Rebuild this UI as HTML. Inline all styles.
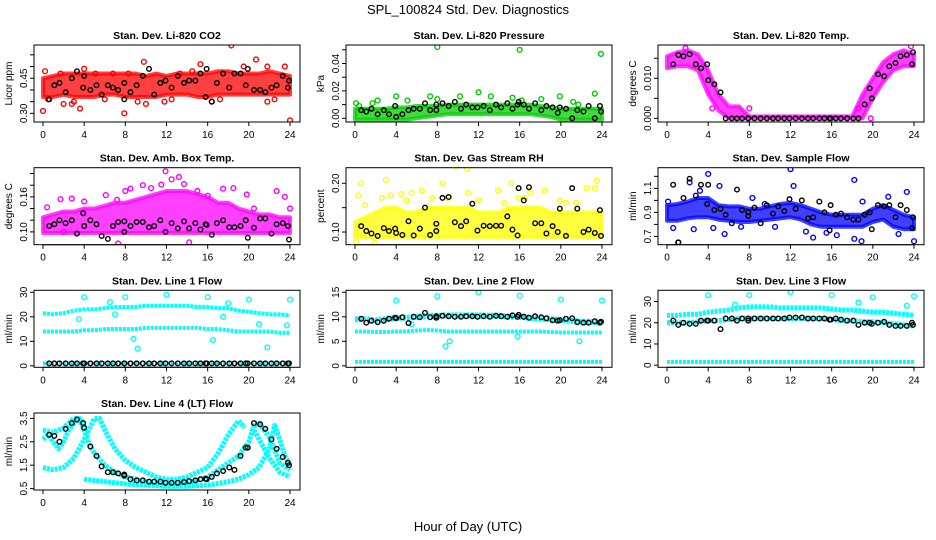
<!DOCTYPE html>
<html><head><meta charset="utf-8"><style>
html,body{margin:0;padding:0;background:#fff;}
svg{display:block;font-family:"Liberation Sans",sans-serif;}
</style></head><body>
<svg id="chart" width="936" height="540" viewBox="0 0 936 540" xmlns="http://www.w3.org/2000/svg">
<text x="468" y="14" text-anchor="middle" font-size="13">SPL_100824  Std. Dev. Diagnostics</text>
<text x="468" y="531" text-anchor="middle" font-size="13">Hour of Day (UTC)</text>
</svg>
<script>
// shared black-point hours
const blackHours=[0.6,1.1,1.6,2.2,2.8,3.3,3.9,4.0,4.6,5.2,5.7,6.3,6.8,7.3,7.9,7.9,8.5,9.1,9.7,10.3,10.8,11.4,11.9,12.5,13.1,13.7,14.2,14.8,15.3,15.8,15.9,16.4,16.9,17.5,18.1,18.6,19.2,19.7,19.9,20.5,21.1,21.6,22.2,22.7,23.3,23.8,23.9];
const bandHours=[0,1,2,3,4,5,6,7,8,9,10,11,12,13,14,15,16,17,18,19,20,21,22,23,24];
const xTicks=[0,4,8,12,16,20,24];

// P1 CO2
const co2Low=[0.37,0.37,0.38,0.37,0.37,0.37,0.38,0.38,0.37,0.37,0.37,0.37,0.38,0.38,0.38,0.37,0.37,0.38,0.38,0.38,0.38,0.38,0.38,0.38,0.38];
const co2High=[0.45,0.46,0.47,0.47,0.47,0.47,0.47,0.47,0.47,0.47,0.46,0.47,0.46,0.47,0.47,0.47,0.47,0.48,0.48,0.47,0.47,0.47,0.48,0.47,0.46];
const co2OutHr=[0,0.2,2,3.6,4,7.9,9.8,10,15.3,18.3,20.7,21.8,21.8,24,23.5,2.8,1.7,5.1,6.8,8.3,9.2,11.8,13.3,16.4,17.2,19.5,0.5,3.0,6.0,12.5,14.5,22.5];
const co2OutVal=[0.31,0.48,0.34,0.32,0.49,0.30,0.52,0.34,0.51,0.59,0.53,0.50,0.35,0.27,0.50,0.34,0.47,0.47,0.47,0.47,0.35,0.35,0.47,0.35,0.36,0.50,0.36,0.35,0.36,0.36,0.48,0.36];
const co2Black=[0.36,0.42,0.43,0.39,0.45,0.48,0.41,0.46,0.40,0.42,0.38,0.42,0.41,0.40,0.36,0.43,0.39,0.42,0.46,0.49,0.38,0.43,0.44,0.41,0.46,0.43,0.44,0.44,0.47,0.37,0.49,0.35,0.43,0.47,0.41,0.47,0.47,0.42,0.49,0.40,0.40,0.39,0.41,0.42,0.46,0.41,0.44];

// P2 Pressure
const presLow=[-0.001,-0.001,-0.001,-0.001,-0.001,-0.001,0,0.001,0.002,0.003,0.003,0.003,0.003,0.003,0.003,0.003,0.003,0.003,0.002,0.001,-0.001,-0.001,-0.001,-0.001,-0.001];
const presHigh=[0.007,0.007,0.007,0.007,0.008,0.008,0.009,0.009,0.009,0.010,0.010,0.010,0.010,0.010,0.010,0.010,0.010,0.010,0.009,0.008,0.007,0.007,0.007,0.007,0.007];
const presOutHr=[0.1,0.4,1.7,2.2,4,5.1,7.3,8,8,10.2,12,13.2,15.3,16,16.2,18.1,19.9,21.2,21.7,23.3,23.9];
const presOutVal=[0.011,0.009,0.011,0.013,0.016,0.013,0.016,0.052,0.014,0.016,0.019,0.016,0.015,0.050,0.013,0.014,0.016,0.012,0.010,0.018,0.047];
const presBlack=[0.006,0.005,0.007,0.003,0.006,0.003,0.009,0.001,0.003,0.006,0.007,0.007,0.011,0.006,0.006,0.010,0.011,0.009,0.012,0.007,0.010,0.008,0.008,0.009,0.006,0.010,0.008,0.011,0.007,0.010,0.012,0.010,0.007,0.011,0.006,0.009,0.008,0.004,0.008,0.007,0.000,0.006,0.005,0.009,0.000,0.009,0.005];

// P3 Li-820 Temp
const ltLow=[0.0125,0.013,0.013,0.012,0.006,0.002,0,0,0,0,0,0,0,0,0,0,0,0,0,0,0.005,0.009,0.012,0.013,0.013];
const ltHigh=[0.0155,0.0165,0.017,0.016,0.012,0.006,0.003,0.003,0.0005,0.0005,0.0005,0.0005,0.0005,0.0005,0.0005,0.0005,0.0005,0.0005,0.0005,0.006,0.010,0.014,0.016,0.017,0.016];
const ltOutHr=[8,18.6,19.8,4.4,1.8,23.7];
const ltOutVal=[0.0025,0.0025,0.0,0.0025,0.0175,0.018];
const ltBlack=[0.0135,0.0158,0.0155,0.016,0.0135,0.0125,0.0135,0.0095,0.0085,0.0065,0,0,0,0,0,0,0,0,0,0,0,0,0,0,0,0,0,0,0,0,0,0,0,0,0,0,0.0035,0.0075,0.005,0.011,0.0105,0.013,0.0138,0.0155,0.0158,0.0135,0.0165];

// P4 Amb Box Temp
const btLow=[0.098,0.098,0.098,0.098,0.098,0.098,0.098,0.098,0.098,0.098,0.098,0.098,0.098,0.098,0.098,0.098,0.098,0.098,0.098,0.098,0.098,0.098,0.098,0.098,0.098];
const btHigh=[0.125,0.13,0.135,0.135,0.14,0.14,0.145,0.15,0.15,0.155,0.16,0.165,0.17,0.17,0.17,0.165,0.16,0.15,0.15,0.14,0.135,0.13,0.13,0.125,0.125];
const btOutHr=[0.4,1.7,2.8,4,6.1,7.2,8.0,8.5,9.7,11.5,11.9,12.5,13.2,13.7,16,17.5,18.5,19.8,22.7,23.5,7.3,14.2,24,2.0,10.5,15,20.5];
const btOutVal=[0.142,0.156,0.157,0.152,0.163,0.155,0.17,0.174,0.18,0.181,0.204,0.19,0.194,0.182,0.162,0.174,0.175,0.164,0.17,0.16,0.08,0.082,0.14,0.10,0.175,0.17,0.14];
const btBlack=[0.11,0.113,0.12,0.115,0.12,0.097,0.132,0.11,0.12,0.113,0.093,0.088,0.11,0.117,0.118,0.1,0.11,0.117,0.117,0.108,0.11,0.12,0.1,0.115,0.106,0.118,0.106,0.115,0.104,0.113,0.112,0.095,0.115,0.12,0.108,0.108,0.11,0.12,0.09,0.107,0.123,0.123,0.097,0.113,0.115,0.11,0.087];

// P5 Gas Stream RH
const rhLow=[0.09,0.09,0.09,0.09,0.09,0.09,0.09,0.09,0.09,0.09,0.09,0.09,0.09,0.09,0.09,0.09,0.09,0.09,0.09,0.09,0.09,0.09,0.09,0.09,0.09];
const rhHigh=[0.12,0.13,0.14,0.15,0.15,0.14,0.14,0.15,0.15,0.15,0.15,0.15,0.14,0.14,0.14,0.15,0.15,0.15,0.15,0.14,0.14,0.14,0.14,0.14,0.14];
const rhOutHr=[0.3,0.6,1,3,4.5,5.5,6.5,8.5,9.8,10.9,12,15.2,15.9,17,18.4,19.9,21.5,22.5,23.5,23.3,2.6,13.9,11,7.5,0.1,1.9,3.5,5,9,14.5,20.5,16.5];
const rhOutVal=[0.175,0.2,0.155,0.207,0.178,0.18,0.185,0.2,0.235,0.23,0.165,0.2,0.17,0.18,0.185,0.165,0.16,0.19,0.205,0.19,0.17,0.185,0.18,0.17,0.08,0.078,0.175,0.165,0.17,0.16,0.16,0.17];
const rhBlack=[0.112,0.102,0.097,0.092,0.108,0.102,0.107,0.098,0.094,0.122,0.093,0.107,0.15,0.094,0.102,0.117,0.17,0.172,0.12,0.112,0.122,0.158,0.103,0.113,0.112,0.113,0.113,0.132,0.105,0.093,0.19,0.165,0.192,0.118,0.118,0.097,0.112,0.1,0.148,0.092,0.19,0.148,0.1,0.105,0.098,0.145,0.092];

// P6 Sample Flow
const sfLow=[0.83,0.83,0.85,0.86,0.86,0.84,0.83,0.82,0.82,0.83,0.84,0.85,0.86,0.84,0.80,0.78,0.78,0.78,0.78,0.78,0.82,0.84,0.78,0.76,0.76];
const sfHigh=[0.96,0.97,0.99,1.02,1.02,0.96,0.95,0.95,0.93,0.93,0.95,0.97,0.98,0.96,0.93,0.90,0.88,0.88,0.88,0.88,0.93,0.96,0.92,0.88,0.86];
const sfOutHr=[1.1,2.2,4,5.1,5.6,12,12.3,14.2,18.2,18.2,18.9,23.3,24,0.1,0.6,4.5,7.2,9.5,15.5,2.6,3.2,8.3,10.5,13.5,16.5,19,21.5,22.5];
const sfOutVal=[0.65,1.15,1.22,1.12,0.72,1.26,1.12,0.69,1.17,0.68,0.66,1.07,0.66,0.99,0.77,0.77,0.78,0.97,0.73,0.76,1.08,1.02,0.78,0.74,0.71,0.99,1.03,0.72];
const sfBlack=[1.13,0.65,1.02,1.18,1.04,1.13,0.97,1.13,0.92,0.93,0.88,0.81,1.09,0.92,0.9,0.87,0.94,0.81,0.96,0.89,0.95,0.91,1.01,0.93,1.0,0.85,0.86,0.99,0.9,0.75,0.96,0.88,0.89,0.86,0.84,0.84,0.88,0.9,0.76,0.96,0.95,0.96,0.86,0.96,0.92,0.77,0.86];

// P7 Line 1 Flow
const l1BandA=[21.5,21,21.5,22.5,23,23,23.5,24,24,24,24.5,24.5,24.5,24.5,24.5,24,24,23.5,23.5,22.5,22,21.5,21,21,20.5];
const l1BandB=[14,14,14,14,14.5,14.5,15,15,15,15,15.5,15.5,15.5,15.5,15.5,15.5,15,15,14.5,14,14,14,14,13.5,13.5];
const l1BandC=[1,1,1,1,1,1,1,1,1,1,1,1,1,1,1,1,1,1,1,1,1,1,1,1,1];
const l1OutHr=[4,8,12,16,20,24,3.5,8.8,9.2,16.5,21,21.8,23.7,6.5,7,17.5,18];
const l1OutVal=[28,28,29,28,27,27,19,11,7,10.5,17,7.5,16.5,26,21,20,25.5];
const l1Black=[1,1,1,1,1,1,1,1,1,1,1,1,1,1,1,1,1,1,1,1,1,1,1,1,1,1,1,1,1,1,1,1,1,1,1,1,1,1,1,1,1,1,1,1,1,1,1];

// P8 Line 2 Flow
const l2BandA=[9.5,9.5,9.3,9.5,9.8,9.8,10,10.2,10.2,10.3,10.3,10.3,10.3,10.2,10.2,10,10,9.8,9.6,9.5,9.4,9.2,9,9,8.8];
const l2BandB=[7,7,6.9,6.9,7,7,7.2,7.3,7.2,7,7,7,7,7,7,7,7,7,7,6.9,6.8,6.8,6.8,6.8,6.8];
const l2BandC=[0.8,0.8,0.8,0.8,0.8,0.8,0.8,0.8,0.8,0.8,0.8,0.8,0.8,0.8,0.8,0.8,0.8,0.8,0.8,0.8,0.8,0.8,0.8,0.8,0.8];
const l2OutHr=[4,8,12,16,20,24,8.8,9.2,21.8,15.8,5.5];
const l2OutVal=[13.3,14.2,15,14.3,13.5,13.3,4,5,5,6,8.5];
const l2Black=[9.6,8.8,9.2,8.9,9.2,9.6,9.8,9.7,9.9,8.7,10,9.9,10.8,9.9,10.1,9.8,10.2,10.1,10,10,10.1,10.1,10,10.1,10,10.2,10.1,10,10.3,10,10.4,10,9.8,10.1,9.9,9.7,9.3,9.2,9.3,9.6,9.7,8.9,8.8,8.8,9.1,8.8,9.0];

// P9 Line 3 Flow
const l3BandA=[23.5,23.5,24,24,25,25.5,26,27,27.5,27.5,27.5,27,27,27,27,27,26.5,26,26,25.5,25,25,24.5,24,23.5];
const l3BandB=[20,20,20,20.5,21,21,21.5,22,22,22,22,22,22,22,22,22,21.5,21,21,20.5,20.5,20,19.5,19,18.5];
const l3BandC=[1.5,1.5,1.5,1.5,1.5,1.5,1.5,1.5,1.5,1.5,1.5,1.5,1.5,1.5,1.5,1.5,1.5,1.5,1.5,1.5,1.5,1.5,1.5,1.5,1.5];
const l3OutHr=[4,8,12,16,20,24,6.6,18.6,23.3];
const l3OutVal=[33,33,34.5,33,32,32.5,28.5,29.5,28];
const l3Black=[21,19,20,19.5,19.5,21,21,21,21,17,22,22,21,22,22,21,22,22,22,22,22,22,22.5,22.5,22.5,22,22,22,22,21.5,21.5,22,21.5,21,21,19,20,20,19.5,20,20.5,19,18.5,18.5,18.5,20,19];

// P10 Line 4 (LT) Flow
const l4C1Hr=[0,1,2,3,4,5,5.5,6,7,8,9,10,11,12,13,14,15,16,17,18,19,19.6];
const l4C1Val=[1.4,1.3,1.4,1.8,2.6,3.5,3.5,3.0,2.2,1.7,1.4,1.2,1.0,0.9,0.9,1.0,1.2,1.4,2.0,2.8,3.4,3.1];
const l4C2Hr=[0,1,2,3,3.5,4,4.5,5,6,7,8,9,10,11,12,13,14,15,16,17,18,19,20,20.5,21,22,23,24];
const l4C2Val=[3.0,2.9,3.1,3.5,3.5,3.0,2.4,2.0,1.5,1.2,1.0,0.9,0.8,0.75,0.7,0.7,0.75,0.85,1.0,1.3,1.6,1.9,2.5,3.2,3.3,2.7,1.6,1.3];
const l4C3Hr=[4,6,8,10,12,14,16,18,19,20,21,22,22.5,23,23.5,24];
const l4C3Val=[0.9,0.8,0.7,0.65,0.6,0.6,0.65,0.8,0.9,1.1,1.4,2.2,3.2,2.6,1.9,1.5];
const l4C4Hr=[0,0.5,1,1.5,2,2.5,3,3.5,4];
const l4C4Val=[2.6,2.8,2.5,2.2,2.5,3.0,3.3,3.5,3.3];
const l4C5Hr=[20.5,21,22,23,24];
const l4C5Val=[3.0,2.6,1.8,1.2,1.0];
const l4Black=[2.8,2.75,2.5,3.05,3.3,3.45,3.3,3.1,2.3,1.9,1.45,1.2,1.2,1.15,1.05,1.1,0.9,0.85,0.85,0.8,0.8,0.8,0.75,0.75,0.75,0.78,0.82,0.85,0.9,0.92,0.9,1.0,1.15,1.25,1.4,1.3,1.9,2.25,2.25,3.3,3.25,3.05,2.6,2.2,1.85,1.6,1.5];

const svg=document.getElementById('chart');
const NS='http://www.w3.org/2000/svg';
function mk(tag,attrs,parent){const e=document.createElementNS(NS,tag);for(const k in attrs)e.setAttribute(k,attrs[k]);(parent||svg).appendChild(e);return e;}

const colX=[34,346,658], rowY=[45,167.7,290.3,413], BW=266, BH=77;

const panels=[
 {name:'co2',title:'Stan. Dev. Li-820 CO2',ylab:'Licor ppm',c:0,r:0,y0:0.263,y1:0.592,ticks:[0.30,0.35,0.40,0.45,0.50,0.55],labels:{'0.3':'0.30','0.45':'0.45'},col:'#ff0000',low:co2Low,high:co2High,outHr:co2OutHr,outVal:co2OutVal,black:co2Black},
 {name:'pressure',title:'Stan. Dev. Li-820 Pressure',ylab:'kPa',c:1,r:0,y0:-0.0027,y1:0.0535,ticks:[0,0.01,0.02,0.03,0.04,0.05],labels:{'0':'0.00','0.02':'0.02','0.04':'0.04'},col:'#00cc00',low:presLow,high:presHigh,outHr:presOutHr,outVal:presOutVal,black:presBlack},
 {name:'li820-temp',title:'Stan. Dev. Li-820 Temp.',ylab:'degrees C',c:2,r:0,y0:-0.0009,y1:0.0183,ticks:[0,0.005,0.01,0.015],labels:{'0':'0.000','0.01':'0.010'},col:'#ff00ff',low:ltLow,high:ltHigh,outHr:ltOutHr,outVal:ltOutVal,black:ltBlack},
 {name:'box-temp',title:'Stan. Dev. Amb. Box Temp.',ylab:'degrees C',c:0,r:1,y0:0.078,y1:0.21,ticks:[0.10,0.12,0.14,0.16,0.18,0.20],labels:{'0.1':'0.10','0.16':'0.16'},col:'#ff00ff',low:btLow,high:btHigh,outHr:btOutHr,outVal:btOutVal,black:btBlack},
 {name:'gas-rh',title:'Stan. Dev. Gas Stream RH',ylab:'percent',c:1,r:1,y0:0.074,y1:0.232,ticks:[0.10,0.15,0.20],labels:{'0.1':'0.10','0.2':'0.20'},col:'#ffff00',low:rhLow,high:rhHigh,outHr:rhOutHr,outVal:rhOutVal,black:rhBlack},
 {name:'sample-flow',title:'Stan. Dev. Sample Flow',ylab:'ml/min',c:2,r:1,y0:0.631,y1:1.272,ticks:[0.7,0.8,0.9,1.0,1.1,1.2],labels:{'0.7':'0.7','0.9':'0.9','1.1':'1.1'},col:'#0000ff',low:sfLow,high:sfHigh,outHr:sfOutHr,outVal:sfOutVal,black:sfBlack},
 {name:'line1-flow',title:'Stan. Dev. Line 1 Flow',ylab:'ml/min',c:0,r:2,y0:-0.6,y1:30.8,ticks:[0,10,20,30],labels:{'0':'0','10':'10','20':'20','30':'30'},col:'#00ffff',bands:[[bandHours,l1BandA,4],[bandHours,l1BandB,4],[bandHours,l1BandC,4]],outHr:l1OutHr,outVal:l1OutVal,black:l1Black},
 {name:'line2-flow',title:'Stan. Dev. Line 2 Flow',ylab:'ml/min',c:1,r:2,y0:-0.3,y1:15.4,ticks:[0,5,10,15],labels:{'0':'0','5':'5','10':'10','15':'15'},col:'#00ffff',bands:[[bandHours,l2BandA,6],[bandHours,l2BandB,4],[bandHours,l2BandC,4]],outHr:l2OutHr,outVal:l2OutVal,black:l2Black},
 {name:'line3-flow',title:'Stan. Dev. Line 3 Flow',ylab:'ml/min',c:2,r:2,y0:-1,y1:35.3,ticks:[0,10,20,30],labels:{'0':'0','10':'10','20':'20','30':'30'},col:'#00ffff',bands:[[bandHours,l3BandA,5],[bandHours,l3BandB,5],[bandHours,l3BandC,4]],outHr:l3OutHr,outVal:l3OutVal,black:l3Black},
 {name:'line4-flow',title:'Stan. Dev. Line 4 (LT) Flow',ylab:'ml/min',c:0,r:3,y0:0.44,y1:3.73,ticks:[0.5,1.5,2.5,3.5],labels:{'0.5':'0.5','1.5':'1.5','2.5':'2.5','3.5':'3.5'},col:'#00ffff',bands:[[l4C1Hr,l4C1Val,5],[l4C2Hr,l4C2Val,5],[l4C3Hr,l4C3Val,5],[l4C4Hr,l4C4Val,5],[l4C5Hr,l4C5Val,5]],outHr:[],outVal:[],black:l4Black}
];

panels.forEach(p=>{
  const bx=colX[p.c], by=rowY[p.r];
  const xs=h=>bx+9+h*(247/24);
  const ys=v=>by+BH-(v-p.y0)/(p.y1-p.y0)*BH;
  const g=mk('g',{});
  
  
  const cp=mk('clipPath',{id:'clip-'+p.name},g);
  mk('rect',{x:bx,y:by,width:BW,height:BH},cp);
  const marks=mk('g',{'clip-path':'url(#clip-'+p.name+')'},g);
  
  
  if(p.low){
    let pts=bandHours.map((h,i)=>xs(h)+','+ys(p.high[i]));
    pts=pts.concat(bandHours.slice().reverse().map((h,j)=>{const i=bandHours.length-1-j;return xs(h)+','+ys(p.low[i]);}));
    const band=mk('polygon',{points:pts.join(' '),fill:p.col,stroke:p.col,'stroke-width':4,'stroke-linejoin':'round','fill-opacity':0.75,'stroke-opacity':0.75},marks);
    
    
  }
  if(p.bands){
    p.bands.forEach((b,k)=>{
      const pl=mk('polyline',{points:b[0].map((h,i)=>xs(h)+','+ys(b[1][i])).join(' '),fill:'none',stroke:p.col,'stroke-width':b[2],'stroke-dasharray':'3 1','stroke-linejoin':'round'},marks);
      
      
    });
  }
  p.outHr.forEach((h,i)=>{
    const c=mk('circle',{cx:xs(h),cy:ys(p.outVal[i]),r:2.4,fill:'none',stroke:p.col,'stroke-width':1.4},marks);
    
    
  });
  blackHours.forEach((h,i)=>{
    const c=mk('circle',{cx:xs(h),cy:ys(p.black[i]),r:2.3,fill:'none',stroke:'#000','stroke-width':1.4},marks);
    
    
  });
  const box=mk('rect',{x:bx,y:by,width:BW,height:BH,fill:'none',stroke:'#000','stroke-width':1},g);
  
  
  const t=mk('text',{x:bx+BW/2,y:by-6,'text-anchor':'middle','font-size':10.5,'font-weight':'bold'},g);
  t.textContent=p.title;
  
  
  mk('line',{x1:xs(0),x2:xs(24),y1:by+BH,y2:by+BH,stroke:'#000'},g);
  xTicks.forEach(h=>{
    mk('line',{x1:xs(h),x2:xs(h),y1:by+BH,y2:by+BH+4,stroke:'#000'},g);
    const tl=mk('text',{x:xs(h),y:by+BH+16,'text-anchor':'middle','font-size':10},g);
    tl.textContent=h;
    
    
  });
  const tmin=p.ticks[0], tmax=p.ticks[p.ticks.length-1];
  mk('line',{x1:bx,x2:bx,y1:ys(tmin),y2:ys(tmax),stroke:'#000'},g);
  p.ticks.forEach(v=>{
    mk('line',{x1:bx-4,x2:bx,y1:ys(v),y2:ys(v),stroke:'#000'},g);
    const key=String(+v.toFixed(4));
    if(p.labels[key]!==undefined){
      const yl=mk('text',{transform:'translate('+(bx-7)+','+ys(v)+') rotate(-90)','text-anchor':'middle','font-size':10},g);
      yl.textContent=p.labels[key];
      
      
    }
  });
  const ya=mk('text',{transform:'translate('+(bx-22)+','+(by+BH/2)+') rotate(-90)','text-anchor':'middle','font-size':10},g);
  ya.textContent=p.ylab;
  
  
});
</script>
</body></html>
